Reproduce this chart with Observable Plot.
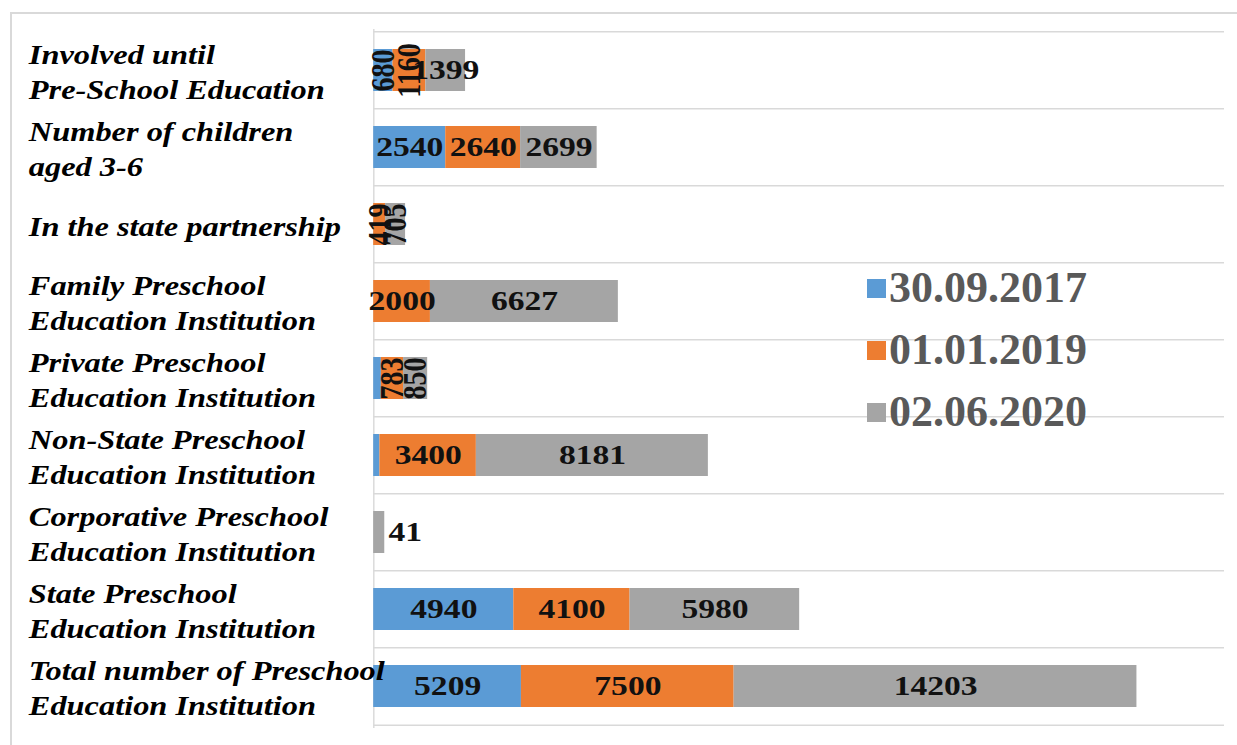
<!DOCTYPE html>
<html><head><meta charset="utf-8">
<script src="https://cdn.jsdelivr.net/npm/d3@7"></script>
<script src="https://cdn.jsdelivr.net/npm/@observablehq/plot@0.6"></script>
<style>
html,body{margin:0;padding:0;background:#fff;width:1237px;height:745px;overflow:hidden}
#frame{position:absolute;left:10px;top:12px;width:1240px;height:740px;border-left:2px solid #d9d9d9;border-top:2px solid #d9d9d9}
#chart{position:absolute;left:0;top:0;transform:scaleX(1.2);transform-origin:0 0;line-height:0}
#chart svg{display:block}
#legend{position:absolute;left:867px;top:257px;font-family:"Liberation Serif","Times New Roman",Times,serif;font-weight:bold;font-size:44px;color:#595959}
.item{display:flex;align-items:center;height:62px;line-height:62px}
.sw{width:19px;height:19px;margin-right:3px}
</style></head><body>
<div id="frame"></div><div id="chart"></div><div id="legend"></div>
<script>
const categories = [
  "Involved until\nPre-School Education",
  "Number of children\naged 3-6",
  "In the state partnership",
  "Family Preschool\nEducation Institution",
  "Private Preschool\nEducation Institution",
  "Non-State Preschool\nEducation Institution",
  "Corporative Preschool\nEducation Institution",
  "State Preschool\nEducation Institution",
  "Total number of Preschool\nEducation Institution"
];
const series = ["30.09.2017", "01.01.2019", "02.06.2020"];
const colors = ["#5B9BD5", "#ED7D31", "#A5A5A5"];
const values2017 = [680, 2540, 0, 0, 270, 220, 0, 4940, 5209];
const values2019 = [1160, 2640, 419, 2000, 783, 3400, 0, 4100, 7500];
const values2020 = [1399, 2699, 705, 6627, 850, 8181, 390, 5980, 14203];
const labels2017 = ["680", "2540", null, null, null, null, null, "4940", "5209"];
const labels2019 = ["1160", "2640", "419", "2000", "783", "3400", null, "4100", "7500"];
const labels2020 = ["1399", "2699", "705", "6627", "850", "8181", "41", "5980", "14203"];

const valueSets = [values2017, values2019, values2020];
const labelSets = [labels2017, labels2019, labels2020];
const rows = [];
categories.forEach((c, i) => {
  series.forEach((s, j) => {
    rows.push({category: c, series: s, value: valueSets[j][i], label: labelSets[j][i]});
  });
});
const cls = d => d.label == null ? null : d.label.length <= 2 ? "outside" : d.value < 1200 ? "rotated" : "normal";

const FONT = "'Liberation Serif', 'Times New Roman', Times, serif";
const W = 1031, H = 745, mt = 29, mb = 17, ml = 311, mr = 11;
const half = (H - mt - mb) / categories.length / 2;
const st = {x: "value", y: "category", z: "series", order: series};
const lab = {fontFamily: FONT, fontWeight: "bold", fill: "#111"};
const outside = Plot.stackX({...st, text: d => cls(d) === "outside" ? d.label : null});

const chart = Plot.plot({
  width: W, height: H,
  marginTop: mt, marginBottom: mb, marginLeft: ml, marginRight: mr,
  style: {background: "transparent"},
  x: {domain: [0, 30000], axis: null},
  y: {domain: categories, axis: null, paddingInner: 0.45, paddingOuter: 0.225},
  color: {domain: series, range: colors},
  marks: [
    Plot.ruleY(categories, {y: d => d, dy: -half, stroke: "#d9d9d9", strokeWidth: 1.5}),
    Plot.ruleY(categories.slice(-1), {y: d => d, dy: half, stroke: "#d9d9d9", strokeWidth: 1.5}),
    Plot.ruleX([0], {stroke: "#d9d9d9", strokeWidth: 1.2}),
    Plot.barX(rows, Plot.stackX({...st, fill: "series"})),
    Plot.text(rows, Plot.stackX({...st, text: d => cls(d) === "normal" ? d.label : null, ...lab, fontSize: 28})),
    Plot.text(rows, Plot.stackX({...st, text: d => cls(d) === "rotated" ? d.label : null, ...lab, fontSize: 28, rotate: -90})),
    Plot.text(rows, {...outside, x: outside.x2, textAnchor: "start", dx: 3, ...lab, fontSize: 28}),
    Plot.text(categories, {y: d => d, text: d => d, frameAnchor: "left", textAnchor: "start", dx: 23.5 - ml,
      lineHeight: 1.3, fontFamily: FONT, fontWeight: "bold", fontStyle: "italic", fontSize: 27, fill: "#000"})
  ]
});
document.getElementById("chart").appendChild(chart);

const legend = document.getElementById("legend");
series.forEach((s, j) => {
  const item = document.createElement("div");
  item.className = "item";
  const sw = document.createElement("span");
  sw.className = "sw";
  sw.style.background = colors[j];
  const t = document.createElement("span");
  t.textContent = s;
  item.appendChild(sw);
  item.appendChild(t);
  legend.appendChild(item);
});
</script>
</body></html>
